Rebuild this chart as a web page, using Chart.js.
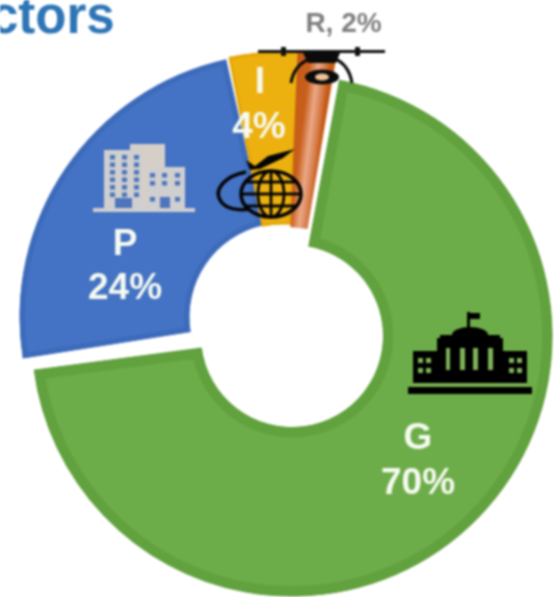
<!DOCTYPE html>
<html><head><meta charset="utf-8">
<style>html,body{margin:0;padding:0;background:#fff;overflow:hidden}canvas{display:block;filter:blur(.8px)}</style>
<script src="https://cdn.jsdelivr.net/npm/chart.js@4"></script></head>
<body><canvas id="c" width="554" height="597"></canvas>
<script>
const categories = ['G','P','I','R'];
const shares = [70,24,4,2];
const titleFragment = 'ctors';
const sliceFills = ['#6DAD49','#4472C4','#EDB10F','#C8601C'];
const sliceEdges = ['#61A13E','#3D6BBB','#E6A80A','#C45A15'];
const edgeWidths = [10,5,3,0];
// per-slice exploded geometry of the original picture: shift of apex, radii, turn (deg)
const explode = [
  {dx:2,dy:-1.5,rOut:260.5,rIn:91,turn:0},
  {dx:-6.5,dy:-20.5,rOut:264,rIn:94,turn:-1.5},
  {dx:-6,dy:1,rOut:287,rIn:114,turn:0},
  {dx:-5,dy:26,rOut:314,rIn:136,turn:-1}
];
Chart.defaults.animation=false;
const cv=document.getElementById('c');const c0=cv.getContext('2d');
const rGrad=c0.createLinearGradient(288,140,330,145);
rGrad.addColorStop(0,'#C45A15');rGrad.addColorStop(.3,'#C8601C');rGrad.addColorStop(.5,'#EBA888');rGrad.addColorStop(.66,'#D77F4C');rGrad.addColorStop(.78,'#C45A15');rGrad.addColorStop(1,'#C45A15');
const fills=sliceFills.slice();fills[3]=rGrad;

const reshape={id:'reshape',beforeDatasetsDraw(ch){
  const arcs=ch.getDatasetMeta(0).data;
  const cx=(ch.chartArea.left+ch.chartArea.right)/2, cy=(ch.chartArea.top+ch.chartArea.bottom)/2;
  arcs.forEach((a,i)=>{const e=explode[i];
    if(a._base===undefined){a._base={s:a.startAngle,t:a.endAngle};}
    const t=e.turn*Math.PI/180;
    a.x=cx+e.dx;a.y=cy+e.dy;a.outerRadius=e.rOut;a.innerRadius=e.rIn;
    a.startAngle=a._base.s+t;a.endAngle=a._base.t+t;
  });
}};
function label(ctx,t,x,y,size,col){ctx.font='bold '+size+'px "Liberation Sans"';ctx.fillStyle=col;ctx.textAlign='center';ctx.textBaseline='alphabetic';ctx.fillText(t,x,y);}
function rects(ctx,col,list){ctx.fillStyle=col;list.forEach(r=>ctx.fillRect(r[0],r[1],r[2],r[3]));}
function tower(ctx){
  rects(ctx,'#D6CFC8',[[130,144,35,64]]);
  rects(ctx,'#CFCFCF',[[104,150,38,58],[147,167,38,41],[93,208,102,4]]);
  const w=[];[110,122,134].forEach(x=>{for(let y=155;y<195;y+=7.5)w.push([x,y,5,4.5]);});
  [150,162,175].forEach(x=>{[173,181,197].forEach(y=>w.push([x,y,5,4.5]));});
  rects(ctx,'#4D74BC',w.concat([[115,198,17,10],[160,197,10,11]]));
}
function capitol(ctx){
  rects(ctx,'#000',[[408,387,124,7],[413,351,114,32],[437,338,66,20],[467,312,3,18],[467,313,13,6],[440,335,60,4]]);
  ctx.fillStyle='#000';ctx.beginPath();ctx.ellipse(470,335,18,8,0,Math.PI,0);ctx.fill();
  rects(ctx,'#7FB258',[[446,348,4,22],[460,348,5,22],[473,348,5,22],[488,348,5,22],[418,358,5,5],[426,358,5,5],[418,368,5,5],[426,368,5,5],[509,358,5,5],[517,358,5,5],[509,368,5,5],[517,368,5,5],[413,384,114,1.5]]);
}
function globe(ctx){
  ctx.strokeStyle='#050505';ctx.lineWidth=3.6;
  ctx.beginPath();ctx.ellipse(271,194,30,23,0,0,7);ctx.stroke();
  ctx.lineWidth=2.8;
  ctx.beginPath();ctx.ellipse(271,194,13,23,0,0,7);ctx.moveTo(271,171);ctx.lineTo(271,217);
  ctx.moveTo(241,194);ctx.lineTo(301,194);ctx.moveTo(246,182);ctx.lineTo(296,182);ctx.moveTo(246,206);ctx.lineTo(296,206);ctx.stroke();
  ctx.lineWidth=3.6;ctx.beginPath();ctx.moveTo(246,172);ctx.bezierCurveTo(224,176,214,190,220,200);ctx.bezierCurveTo(225,209,238,211,250,209);ctx.stroke();
  ctx.fillStyle='#050505';ctx.beginPath();ctx.moveTo(295,149);ctx.lineTo(268,156);ctx.lineTo(255,166);ctx.lineTo(246,160);ctx.lineTo(250,170);ctx.lineTo(260,169);ctx.lineTo(283,158);ctx.closePath();ctx.fill();
}
function drone(ctx){
  rects(ctx,'#111',[[258,50,127,3],[281,47,5,9],[355,47,5,9]]);
  ctx.fillStyle='#0b0b0b';ctx.beginPath();ctx.moveTo(303,53);ctx.lineTo(340,53);ctx.lineTo(336,63);ctx.lineTo(308,63);ctx.closePath();ctx.fill();
  ctx.strokeStyle='#0b0b0b';ctx.lineWidth=3;ctx.beginPath();ctx.moveTo(312,58);ctx.quadraticCurveTo(294,64,291,83);ctx.moveTo(333,58);ctx.quadraticCurveTo(349,64,352,83);ctx.stroke();
  ctx.beginPath();ctx.ellipse(322,77,17,7.5,0,0,7);ctx.fill();
  ctx.fillStyle='#F0C294';ctx.beginPath();ctx.ellipse(322,77,7,3.6,0,0,7);ctx.fill();
}
const overlay={id:'overlay',afterDatasetsDraw(ch){
  const ctx=ch.ctx;ctx.save();
  const W='#F6FAF2';
  tower(ctx);capitol(ctx);
  label(ctx,categories[0],418,449,37,W);label(ctx,shares[0]+'%',418,494,37,W);
  label(ctx,categories[1],125,255,37,W);label(ctx,shares[1]+'%',125,299,37,W);
  label(ctx,categories[2],260,93,37,W);label(ctx,shares[2]+'%',259,138,37,W);
  globe(ctx);drone(ctx);
  label(ctx,categories[3]+', '+shares[3]+'%',343.5,32,28,'#7F7F7F');
  ctx.font='bold 51px "Liberation Sans"';ctx.fillStyle='#2E75B6';ctx.textAlign='left';ctx.fillText(titleFragment,-10,33);
  ctx.restore();
}};
new Chart(cv,{type:'doughnut',
 data:{labels:categories,datasets:[{data:shares,backgroundColor:fills,borderColor:sliceEdges,borderWidth:edgeWidths,borderAlign:'inner',hoverOffset:0}]},
 options:{responsive:false,rotation:10.5,cutout:97,radius:259,layout:{padding:{top:78,left:26,right:0,bottom:0}},
  plugins:{legend:{display:false},tooltip:{enabled:false},title:{display:false}},events:[]},
 plugins:[reshape,overlay]});
</script></body></html>
